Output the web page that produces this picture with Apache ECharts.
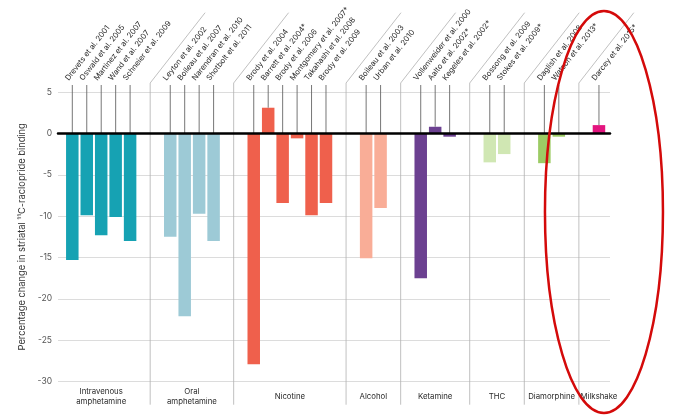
<!DOCTYPE html>
<html><head><meta charset="utf-8">
<script src="https://cdn.jsdelivr.net/npm/echarts@6/dist/echarts.min.js"></script>
<style>html,body{margin:0;padding:0;background:#fff}#c{width:680px;height:417px}</style>
</head><body><div id="c"></div>
<script>
const groupNames = ['Intravenous\namphetamine', 'Oral\namphetamine', 'Nicotine', 'Alcohol', 'Ketamine', 'THC', 'Diamorphine', 'Milkshake'];
const ivAmphStudies = ['Drevets et al. 2001', 'Oswald et al. 2005', 'Martinez et al. 2007', 'Wand et al. 2007', 'Schneier et al. 2009'];
const ivAmphValues = [-15.3, -9.9, -12.3, -10.1, -13.0];
const oralAmphStudies = ['Leyton et al. 2002', 'Boileau et al. 2007', 'Narendran et al. 2010', 'Shotbolt et al. 2011'];
const oralAmphValues = [-12.5, -22.1, -9.7, -13.0];
const nicotineStudies = ['Brody et al. 2004', 'Barrett et al. 2004*', 'Brody et al. 2006', 'Montgomery et al. 2007*', 'Takahashi et al. 2008', 'Brody et al. 2009'];
const nicotineValues = [-27.9, 3.1, -8.4, -0.6, -9.9, -8.4];
const alcoholStudies = ['Boileau et al. 2003', 'Urban et al. 2010'];
const alcoholValues = [-15.1, -9.0];
const ketamineStudies = ['Vollenweider et al. 2000', 'Aalto et al. 2002*', 'Kegeles et al. 2002*'];
const ketamineValues = [-17.5, 0.8, -0.4];
const thcStudies = ['Bossong et al. 2009', 'Stokes et al. 2009*'];
const thcValues = [-3.5, -2.5];
const diamorphineStudies = ['Daglish et al. 2008', 'Watson et al. 2013*'];
const diamorphineValues = [-3.6, -0.4];
const milkshakeStudies = ['Darcey et al. 2015*'];
const milkshakeValues = [1.0];
const yTickMin = -30, yTickMax = 5, yTickStep = 5;

const groupColors = ['#16a2b3', '#9dcad6', '#ef604c', '#f9ad97', '#6c4191', '#d0e7b3', '#9ccb64', '#e3157f'];

const studies = [ivAmphStudies, oralAmphStudies, nicotineStudies, alcoholStudies, ketamineStudies, thcStudies, diamorphineStudies, milkshakeStudies];
const values = [ivAmphValues, oralAmphValues, nicotineValues, alcoholValues, ketamineValues, thcValues, diamorphineValues, milkshakeValues];

const GAP = 1.778;
const FONT = 'Inter';
const ANG = 52 * Math.PI / 180;
const bars = [], stems = [], stemNames = [], dividers = [], centers = [];
let idx = 0, lastPos = null;
studies.forEach((list, g) => {
  const ps = [];
  list.forEach((name, i) => {
    const x = idx + g * GAP;
    if (i === 0 && lastPos !== null) dividers.push([(lastPos + x) / 2]);
    ps.push(x);
    bars.push({ value: [x, values[g][i]], itemStyle: { color: groupColors[g] } });
    stems.push([x, values[g][i]]);
    stemNames.push(name);
    idx++;
    lastPos = x;
  });
  centers.push([ps.reduce((a, b) => a + b, 0) / ps.length, yTickMin]);
});

const chart = echarts.init(document.getElementById('c'), null, { renderer: 'canvas' });
chart.setOption({
  animation: false,
  textStyle: { fontFamily: FONT },
  grid: { left: 58, right: 70, top: 92, bottom: 35.3 },
  xAxis: {
    type: 'value', min: -0.99, max: 37.21, z: 5,
    axisLine: { show: true, onZero: true, lineStyle: { color: '#000', width: 2.5 } },
    axisTick: { show: false }, axisLabel: { show: false }, splitLine: { show: false }
  },
  yAxis: {
    type: 'value', min: yTickMin, max: yTickMax, interval: yTickStep,
    name: 'Percentage change in striatal \u00B9\u00B9C-raclopride binding',
    nameLocation: 'middle', nameGap: 30,
    nameTextStyle: { fontSize: 9.3, color: '#333', fontFamily: FONT },
    axisLine: { show: false }, axisTick: { show: false },
    axisLabel: { fontSize: 8.5, color: '#555', margin: 6, fontFamily: FONT },
    splitLine: { lineStyle: { color: '#dcdcdc', width: 1 } }
  },
  series: [
    {
      type: 'custom', clip: false, z: 1, silent: true,
      data: dividers,
      renderItem: (params, api) => {
        const x = api.value(0);
        const pb = api.coord([x, yTickMin]);
        const pt = api.coord([x, yTickMax]);
        const topY = pt[1] - 9;
        const dy = topY - 12.7;
        return {
          type: 'polyline',
          shape: { points: [[pb[0], pb[1] + 23], [pb[0], topY], [pb[0] + dy / Math.tan(ANG), 12.7]] },
          style: { stroke: '#b0b0b0', lineWidth: 0.8, fill: null }
        };
      }
    },
    {
      type: 'bar', barWidth: 12.5, z: 2,
      data: bars
    },
    {
      type: 'custom', clip: false, z: 3, silent: true,
      data: stems,
      renderItem: (params, api) => {
        const x = api.value(0), v = api.value(1);
        const pt = api.coord([x, yTickMax]);
        const pb = api.coord([x, Math.max(0, v)]);
        const topY = pt[1] - 7;
        return {
          type: 'group',
          children: [
            { type: 'line', shape: { x1: pb[0], y1: topY, x2: pb[0], y2: pb[1] }, style: { stroke: '#666', lineWidth: 0.9 } },
            { type: 'text', x: pb[0] - 5.5, y: topY - 5.5, rotation: ANG,
              style: { text: stemNames[params.dataIndex], fontSize: 7.7, fontFamily: FONT, fill: '#2a2a2a', align: 'left', verticalAlign: 'middle' } }
          ]
        };
      }
    },
    {
      type: 'custom', clip: false, z: 3, silent: true,
      data: centers,
      renderItem: (params, api) => {
        const p = api.coord([api.value(0), api.value(1)]);
        return {
          type: 'text', x: p[0], y: p[1] + 15,
          style: { text: groupNames[params.dataIndex], fontSize: 7.8, lineHeight: 9.5, fontFamily: FONT, fill: '#2a2a2a', align: 'center', verticalAlign: 'middle' }
        };
      }
    }
  ]
});
const mp = chart.convertToPixel({ xAxisIndex: 0, yAxisIndex: 0 }, [bars[bars.length - 1].value[0], 0]);
chart.setOption({
  graphic: [{
    type: 'ellipse', z: 100, silent: true,
    shape: { cx: mp[0] + 5, cy: 212, rx: 59, ry: 201 },
    style: { fill: null, stroke: '#d40a0a', lineWidth: 2.5 }
  }]
});
</script></body></html>
